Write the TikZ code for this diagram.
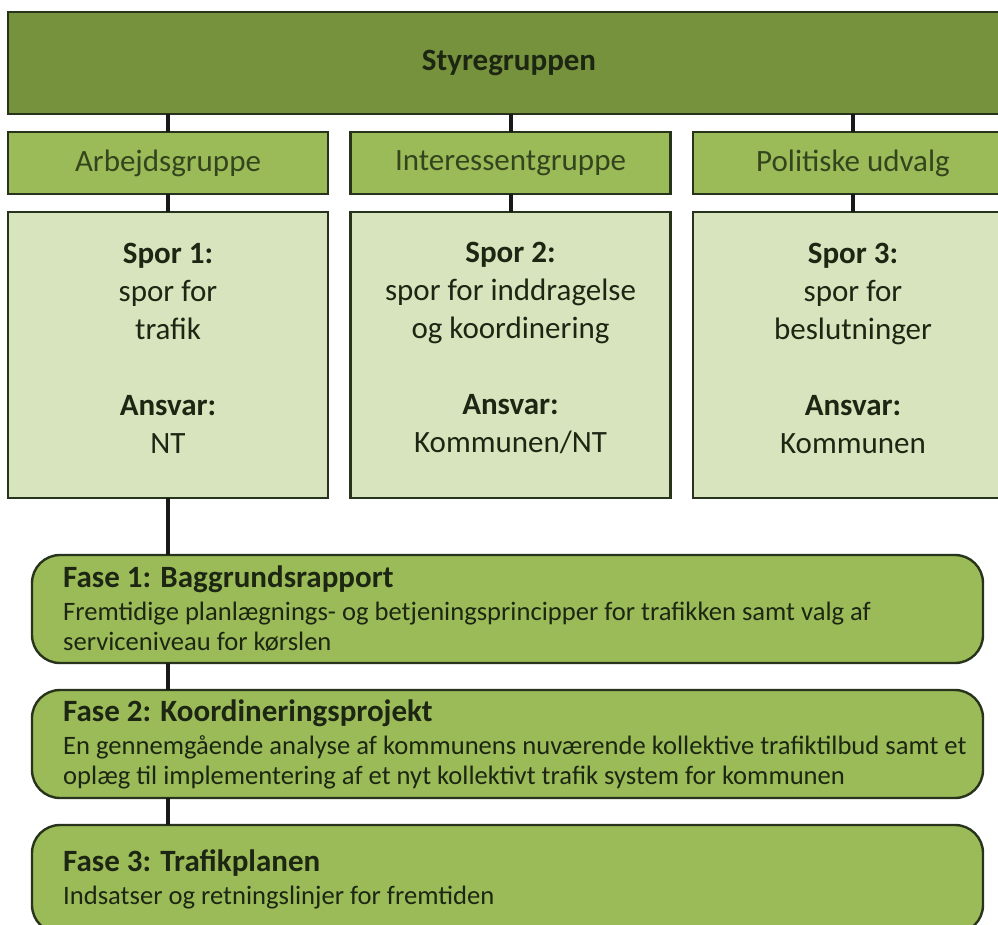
\documentclass[tikz,border=0pt]{standalone}
\usepackage{fontspec}
\setmainfont{Carlito}
\definecolor{topgreen}{HTML}{76923C}
\definecolor{midgreen}{HTML}{9BBB59}
\definecolor{lightgreen}{HTML}{D7E4BD}
\definecolor{edgecol}{HTML}{27331A}
\definecolor{txtcol}{HTML}{1C2612}
\definecolor{grptxt}{HTML}{34451E}
\newcommand{\fasehd}{\fontsize{31}{36}\selectfont\bfseries}
\begin{document}
\begin{tikzpicture}[x=1pt,y=-1pt,
  box/.style={draw=edgecol,line width=2.4pt,inner sep=0pt,outer sep=0pt,text=txtcol},
  topbox/.style={box,fill=topgreen,minimum width=1002pt,minimum height=102pt,font=\fontsize{31}{36}\selectfont\bfseries},
  grpbox/.style={box,fill=midgreen,minimum width=320pt,minimum height=62pt,text=grptxt,font=\fontsize{31}{36}\selectfont},
  sporbox/.style={box,fill=lightgreen,minimum width=320pt,minimum height=286pt},
  sportxt/.style={align=center,inner sep=0pt,text=txtcol,font=\fontsize{31}{38}\selectfont},
  fasebox/.style={box,fill=midgreen,rounded corners=28pt,minimum width=951pt,minimum height=108pt},
  fasetxt/.style={anchor=west,align=left,inner sep=0pt,text=txtcol,font=\fontsize{26.6}{30}\selectfont},
  conn/.style={draw=black!90,line width=4pt}]
\useasboundingbox (0,0) rectangle (998,924);
\fill[white] (0,0) rectangle (998,924);
% boxes
\node[topbox] (top) at (509,63) {Styregruppen};
\node[grpbox] (g1) at (168,163) {Arbejdsgruppe};
\node[grpbox] (g2) at (510.5,163) {Interessentgruppe};
\node[grpbox] (g3) at (853,163) {Politiske udvalg};
\node[sporbox] (s1) at (168,355) {};
\node[sporbox] (s2) at (510.5,355) {};
\node[sporbox] (s3) at (853,355) {};
\node[sportxt] (p1) at ([yshift=7pt]s1.center) {\textbf{Spor 1:}\\spor for\\trafik\\[38pt]\textbf{Ansvar:}\\NT};
\node[sportxt] (p2) at ([yshift=7pt]s2.center) {\textbf{Spor 2:}\\spor for inddragelse\\og koordinering\\[38pt]\textbf{Ansvar:}\\Kommunen/NT};
\node[sportxt] (p3) at ([yshift=7pt]s3.center) {\textbf{Spor 3:}\\spor for\\beslutninger\\[38pt]\textbf{Ansvar:}\\Kommunen};
\node[fasebox] (f1) at (507.5,609) {};
\node[fasebox] (f2) at (507.5,744) {};
\node[fasebox] (f3) at (507.5,879) {};
\node[fasetxt] (t1) at ([xshift=31pt]f1.west) {{\fasehd Fase 1: Baggrundsrapport}\\[3pt]Fremtidige planlægnings- og betjeningsprincipper for trafikken samt valg af\\serviceniveau for kørslen};
\node[fasetxt] (t2) at ([xshift=31pt]f2.west) {{\fasehd Fase 2: Koordineringsprojekt}\\[3pt]En gennemgående analyse af kommunens nuværende kollektive trafiktilbud samt et\\oplæg til implementering af et nyt kollektivt trafik system for kommunen};
\node[fasetxt] (t3) at ([xshift=31pt]f3.west) {{\fasehd Fase 3: Trafikplanen}\\[3pt]Indsatser og retningslinjer for fremtiden};
% connectors
\draw[conn] (g1.north) -- (g1.north |- top.south);
\draw[conn] (g2.north) -- (g2.north |- top.south);
\draw[conn] (g3.north) -- (g3.north |- top.south);
\draw[conn] (s1.north) -- (g1.south);
\draw[conn] (s2.north) -- (g2.south);
\draw[conn] (s3.north) -- (g3.south);
\draw[conn] (s1.south) -- (s1.south |- f1.north);
\draw[conn] (f1.south -| s1.south) -- (f2.north -| s1.south);
\draw[conn] (f2.south -| s1.south) -- (f3.north -| s1.south);
\end{tikzpicture}
\end{document}
